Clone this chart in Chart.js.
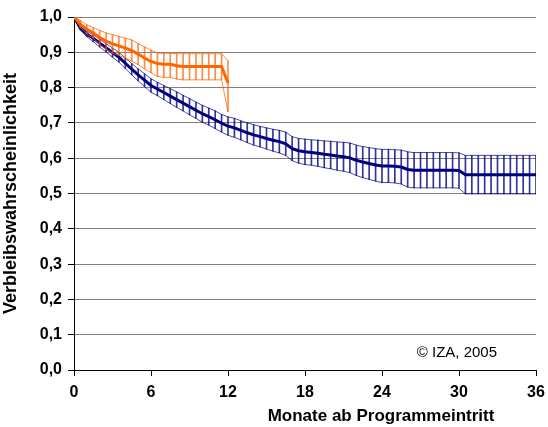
<!DOCTYPE html>
<html>
<head>
<meta charset="utf-8">
<script src="https://cdn.jsdelivr.net/npm/chart.js@4.4.1/dist/chart.umd.min.js"></script>
<style>
  html, body { margin: 0; padding: 0; background: #fff; }
</style>
</head>
<body>
<canvas id="myChart" width="548" height="427"></canvas>
<script>
// months since programme entry (x values)
const monthsLong = [0, 0.5, 1, 1.5, 2, 2.5, 3, 3.5, 4, 4.5, 5, 5.5, 6, 6.5, 7, 7.5, 8, 8.5, 9, 9.5,
  10, 10.5, 11, 11.5, 12, 12.5, 13, 13.5, 14, 14.5, 15, 15.5, 16, 16.5, 17, 17.5, 18, 18.5, 19, 19.5,
  20, 20.5, 21, 21.5, 22, 22.5, 23, 23.5, 24, 24.5, 25, 25.5, 26, 26.5, 27, 27.5, 28, 28.5, 29, 29.5,
  30, 30.5, 31, 31.5, 32, 32.5, 33, 33.5, 34, 34.5, 35, 35.5, 36];
const monthsShort = [0, 0.5, 1, 1.5, 2, 2.5, 3, 3.5, 4, 4.5, 5, 5.5, 6, 6.5, 7, 7.5, 8, 8.5, 9, 9.5,
  10, 10.5, 11, 11.5, 12];

// navy series: estimate + confidence band
const navyMid = [1.0, .968, .952, .94, .926, .913, .899, .886, .869, .852, .836, .821, .806, .796, .786, .776, .766, .756, .746, .736,
  .726, .718, .709, .699, .691, .686, .679, .672, .666, .661, .656, .651, .647, .641, .627, .621, .618, .616, .614, .611,
  .609, .606, .604, .601, .594, .589, .585, .581, .578, .578, .577, .575, .568, .566, .566, .566, .566, .566, .566, .566,
  .565, .553, .553, .553, .553, .553, .553, .553, .553, .553, .553, .553, .553];
const navyUp = [1.0, .973, .960, .950, .937, .925, .912, .900, .884, .868, .853, .839, .825, .815, .806, .797, .788, .778, .769, .759,
  .750, .742, .734, .724, .717, .713, .706, .700, .695, .690, .686, .682, .679, .674, .661, .656, .654, .652, .651, .649,
  .648, .646, .645, .643, .637, .633, .630, .627, .625, .625, .624, .623, .618, .616, .616, .616, .616, .616, .616, .616,
  .615, .608, .608, .608, .608, .608, .608, .608, .608, .608, .608, .608, .608];
const navyLow = [1.0, .963, .944, .930, .915, .901, .886, .872, .854, .836, .819, .803, .787, .777, .766, .755, .744, .734, .723, .713,
  .702, .694, .684, .674, .665, .659, .652, .644, .637, .632, .626, .620, .615, .608, .593, .586, .582, .580, .577, .573,
  .570, .566, .563, .559, .551, .545, .540, .535, .531, .531, .530, .527, .518, .516, .516, .516, .516, .516, .516, .516,
  .515, .499, .499, .499, .499, .499, .499, .499, .499, .499, .499, .499, .499];

// orange series: estimate + confidence band
const orangeMid = [1.0, .98, .965, .955, .942, .932, .924, .918, .912, .905, .895, .884, .874, .868, .866, .866, .862, .86, .86, .86,
  .86, .86, .86, .86, .813];
const orangeUp = [1.0, .99, .978, .97, .962, .955, .95, .945, .94, .935, .925, .915, .906, .898, .897, .897, .896, .896, .896, .896,
  .896, .896, .896, .896, .876];
const orangeLow = [1.0, .97, .952, .94, .922, .909, .898, .891, .884, .875, .865, .853, .842, .832, .829, .829, .824, .822, .822, .822,
  .822, .822, .822, .822, .732];

const xTicks = [0, 6, 12, 18, 24, 30, 36];

const NAVY = '#000080';
const ORANGE = '#ff6600';
const FONT = '"Liberation Sans", Arial, sans-serif';

function pts(xs, ys) {
  return xs.map((x, i) => ({ x: x, y: ys[i] }));
}
function ranges(xs, lo, hi) {
  return xs.map((x, i) => ({ x: x, y: [lo[i], hi[i]] }));
}

function lineSet(data, color, width, order) {
  return {
    type: 'line',
    data: data,
    borderColor: color,
    borderWidth: width,
    pointRadius: 0,
    tension: 0,
    fill: false,
    order: order,
  };
}

function hatchSet(data, color, order) {
  return {
    type: 'bar',
    data: data,
    backgroundColor: color,
    borderWidth: 0,
    barThickness: 1,
    grouped: false,
    order: order,
  };
}

// extra texts: x-axis title and copyright note
const textPlugin = {
  id: 'texts',
  afterDraw(chart) {
    const ctx = chart.ctx;
    const area = chart.chartArea;
    ctx.save();
    ctx.fillStyle = '#000';
    ctx.textBaseline = 'alphabetic';
    ctx.font = 'bold 17px ' + FONT;
    ctx.textAlign = 'center';
    ctx.fillText('Monate ab Programmeintritt', area.right - 155, 421);
    ctx.font = '15px ' + FONT;
    ctx.textAlign = 'right';
    ctx.fillText('\u00A9 IZA, 2005', area.right - 39, 357);
    ctx.restore();
  },
};

const config = {
  type: 'line',
  data: {
    datasets: [
      lineSet(pts(monthsShort, orangeMid), ORANGE, 3, 0),
      lineSet(pts(monthsShort, orangeUp), 'rgba(255,102,0,0.75)', 1, 1),
      lineSet(pts(monthsShort, orangeLow), 'rgba(255,102,0,0.75)', 1, 1),
      hatchSet(ranges(monthsShort, orangeLow, orangeUp), 'rgba(255,102,0,0.75)', 2),
      lineSet(pts(monthsLong, navyMid), NAVY, 3, 3),
      lineSet(pts(monthsLong, navyUp), 'rgba(0,0,128,0.7)', 1, 4),
      lineSet(pts(monthsLong, navyLow), 'rgba(0,0,128,0.7)', 1, 4),
      hatchSet(ranges(monthsLong, navyLow, navyUp), 'rgba(0,0,128,0.8)', 5),
    ],
  },
  options: {
    responsive: false,
    animation: false,
    devicePixelRatio: 1,
    layout: { padding: { left: 0, right: 12, top: 17, bottom: 0 } },
    plugins: {
      legend: { display: false },
      tooltip: { enabled: false },
    },
    scales: {
      x: {
        type: 'linear',
        min: 0,
        max: 36,
        offset: false,
        afterBuildTicks: (scale) => { scale.ticks = xTicks.map(v => ({ value: v })); },
        ticks: {
          color: '#000',
          font: { family: FONT, size: 16, weight: 'bold' },
          padding: 7,
          maxRotation: 0,
        },
        grid: { drawOnChartArea: false, offset: false, color: '#000', tickLength: 6 },
        border: { color: '#000', width: 1 },
        afterFit: (scale) => {
          scale.height = 57;
          scale.paddingLeft = 0;
          scale.paddingRight = 0;
        },
      },
      y: {
        min: 0,
        max: 1,
        ticks: {
          stepSize: 0.1,
          color: '#000',
          font: { family: FONT, size: 16, weight: 'bold' },
          padding: 6,
          callback: (v) => v.toFixed(1).replace('.', ','),
        },
        grid: { color: '#808080', tickColor: '#000', tickLength: 6 },
        border: { color: '#000', width: 1 },
        title: {
          display: true,
          text: 'Verbleibswahrscheinlichkeit',
          color: '#000',
          font: { family: FONT, size: 18, weight: 'bold' },
          padding: { top: 0, bottom: 0 },
        },
        afterFit: (scale) => {
          scale.width = 74;
          scale.paddingTop = 0;
          scale.paddingBottom = 0;
        },
      },
    },
  },
  plugins: [textPlugin],
};

const myChart = new Chart(document.getElementById('myChart'), config);
</script>
</body>
</html>
